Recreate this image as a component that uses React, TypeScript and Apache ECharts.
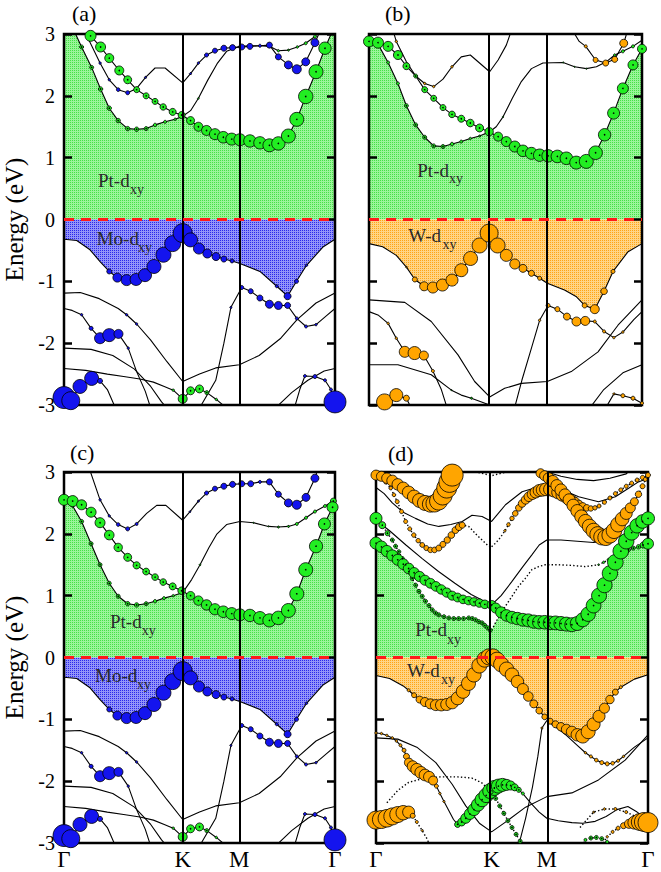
import { useEffect, useRef } from 'react';
import * as echarts from 'echarts';

// ---------- axis data ----------
const Y_MIN = -3;
const Y_MAX = 3;
const Y_STEP = 1;
const KPOS = [0.438, 0.442, 0.438, 0.425];
const MPOS = [0.647, 0.653, 0.647, 0.628];
const PATH_LABELS = ['Γ', 'K', 'M', 'Γ'];
const PANEL_TAGS = ['(a)', '(b)', '(c)', '(d)'];
const Y_NAME = 'Energy (eV)';

// points: [k (fraction of path), E (eV), Pt-dxy weight, metal-dxy weight]
// ---------- panel (a) conduction ----------
const A_P = [
  [0, 3.6], [0.06, 3.2],
  [0.098, 2.97, 0.55], [0.135, 2.79, 0.5], [0.167, 2.61, 0.45], [0.204, 2.41, 0.45], [0.235, 2.26, 0.4],
  [0.268, 2.1, 0.3], [0.303, 2.0, 0.3], [0.336, 1.91, 0.3], [0.366, 1.82, 0.32], [0.401, 1.74, 0.35],
  [0.434, 1.69, 0.35], [0.467, 1.6, 0.4], [0.496, 1.5, 0.45], [0.526, 1.44, 0.5], [0.557, 1.38, 0.55],
  [0.588, 1.33, 0.58], [0.619, 1.3, 0.6], [0.649, 1.29, 0.6], [0.686, 1.27, 0.62], [0.723, 1.24, 0.62],
  [0.758, 1.2, 0.65], [0.791, 1.23, 0.67], [0.828, 1.35, 0.7], [0.859, 1.62, 0.7], [0.892, 1.99, 0.72],
  [0.93, 2.39, 0.7], [0.963, 2.77, 0.62], [1, 3.15],
];
const A_L = [
  [0, 3.4], [0.065, 2.79, 0.2], [0.102, 2.46, 0.2], [0.135, 2.11, 0.22], [0.167, 1.8, 0.22], [0.2, 1.6, 0.22],
  [0.235, 1.47, 0.22], [0.268, 1.46, 0.22], [0.303, 1.47, 0.2], [0.336, 1.53, 0.17], [0.373, 1.58, 0.15],
  [0.41, 1.62, 0.12], [0.438, 1.67], [0.467, 1.76], [0.496, 1.96, 0.08], [0.53, 2.25], [0.565, 2.52],
  [0.6, 2.72], [0.647, 2.8], [0.69, 2.81], [0.723, 2.81], [0.758, 2.8], [0.791, 2.73, 0.12], [0.828, 2.74, 0.1],
  [0.861, 2.79, 0.12], [0.892, 2.85, 0.15], [0.926, 2.96, 0.15], [0.96, 3.12], [1, 3.4],
];
const A_B = [
  [0.07, 3.1], [0.133, 2.53, 0, 0.12], [0.167, 2.26, 0, 0.12], [0.2, 2.1, 0, 0.18], [0.235, 2.05, 0, 0.2],
  [0.268, 2.12, 0, 0.12], [0.301, 2.3, 0, 0.1], [0.336, 2.45], [0.373, 2.45], [0.438, 2.21],
  [0.467, 2.36, 0, 0.1], [0.496, 2.53, 0, 0.12], [0.526, 2.66, 0, 0.2], [0.557, 2.73, 0, 0.25],
  [0.59, 2.77, 0, 0.3], [0.622, 2.78, 0, 0.3], [0.656, 2.79, 0, 0.3], [0.686, 2.8, 0, 0.3],
  [0.723, 2.81, 0, 0.15], [0.758, 2.82, 0, 0.3], [0.791, 2.63, 0, 0.3], [0.828, 2.5, 0, 0.4],
  [0.859, 2.43, 0, 0.45], [0.892, 2.55, 0, 0.4], [0.926, 2.86, 0, 0.4], [0.95, 3.1],
];
// ---------- panels (a),(c) valence (Mo) ----------
const MO_V1 = [
  [0, -0.32], [0.047, -0.34], [0.096, -0.49], [0.133, -0.68], [0.167, -0.84, 0, 0.25], [0.197, -0.94, 0, 0.45],
  [0.231, -0.98, 0, 0.55], [0.266, -0.97, 0, 0.6], [0.299, -0.9, 0, 0.65], [0.332, -0.76, 0, 0.7],
  [0.367, -0.57, 0, 0.75], [0.401, -0.39, 0, 0.8], [0.438, -0.22, 0, 0.95], [0.467, -0.33, 0, 0.7],
  [0.498, -0.47, 0, 0.55], [0.529, -0.55, 0, 0.45], [0.561, -0.6, 0, 0.4], [0.59, -0.64, 0, 0.3],
  [0.62, -0.67, 0, 0.2], [0.649, -0.71], [0.723, -0.84], [0.785, -1.08, 0, 0.15], [0.825, -1.24, 0, 0.35],
  [0.858, -1.0, 0, 0.2], [0.895, -0.74, 0, 0.12], [0.957, -0.44], [1, -0.32],
];
const MO_V2 = [
  [0, -1.19], [0.06, -1.18], [0.13, -1.28], [0.2, -1.44], [0.231, -1.54, 0, 0.12], [0.268, -1.69, 0, 0.12],
  [0.32, -1.95], [0.38, -2.3], [0.438, -2.62], [0.5, -2.5], [0.56, -2.4], [0.647, -2.35], [0.72, -2.2],
  [0.8, -1.92], [0.86, -1.62], [0.93, -1.35], [1, -1.19],
];
const MO_V3 = [
  [0, -1.44], [0.03, -1.47], [0.065, -1.54, 0, 0.12], [0.1, -1.76, 0, 0.2], [0.133, -1.92, 0, 0.55],
  [0.167, -1.87, 0, 0.65], [0.201, -1.85, 0, 0.45], [0.237, -2.08, 0, 0.12], [0.268, -2.46], [0.3, -2.78],
  [0.32, -3.05],
];
const MO_V3B = [
  [0.5, -3.05], [0.56, -2.6], [0.59, -2.0], [0.616, -1.42, 0, 0.1], [0.656, -1.1, 0, 0.2], [0.689, -1.16, 0, 0.25],
  [0.723, -1.27, 0, 0.3], [0.758, -1.37, 0, 0.4], [0.791, -1.39, 0, 0.4], [0.825, -1.39, 0, 0.3],
  [0.859, -1.6, 0, 0.15], [0.893, -1.73, 0, 0.15], [0.93, -1.7, 0, 0.12], [0.97, -1.55], [1, -1.44],
];
const MO_V4 = [
  [0, -2.41], [0.08, -2.44], [0.16, -2.5], [0.22, -2.54], [0.28, -2.58], [0.33, -2.63], [0.37, -2.7],
  [0.403, -2.76, 0.12], [0.438, -2.9, 0.45], [0.467, -2.77, 0.4], [0.5, -2.74, 0.4], [0.527, -2.8, 0.2],
  [0.562, -2.91, 0.12], [0.6, -3.05],
];
const MO_V4B = [[0, -2.08], [0.1, -2.1], [0.18, -2.2], [0.26, -2.42], [0.32, -2.7], [0.36, -2.95], [0.38, -3.05]];
const MO_V5 = [
  [0, -2.88, 0, 1.1], [0.025, -2.93, 0, 0.9], [0.059, -2.7, 0, 0.7], [0.102, -2.57, 0, 0.7],
  [0.133, -2.61, 0, 0.25], [0.16, -2.75], [0.19, -3.05],
];
const MO_V5B = [
  [0.85, -3.05], [0.87, -2.75], [0.889, -2.53, 0, 0.15], [0.926, -2.54, 0, 0.2], [0.963, -2.6, 0, 0.15],
  [0.985, -2.75, 0, 0.15], [1, -2.95, 0, 1.1],
];
const MO_V6 = [[0.78, -3.05], [0.84, -2.8], [0.9, -2.6], [0.96, -2.45], [1, -2.41]];

// ---------- panel (c) conduction ----------
const C_P = [
  [0, 2.55, 0.55], [0.032, 2.53, 0.55], [0.065, 2.47, 0.5], [0.1, 2.35, 0.5], [0.133, 2.18, 0.5],
  [0.167, 1.98, 0.48], [0.2, 1.78, 0.42], [0.235, 1.62, 0.4], [0.268, 1.49, 0.36], [0.303, 1.39, 0.34],
  [0.336, 1.3, 0.33], [0.366, 1.22, 0.33], [0.401, 1.15, 0.35], [0.434, 1.08, 0.38], [0.467, 1.0, 0.42],
  [0.496, 0.92, 0.47], [0.526, 0.85, 0.52], [0.557, 0.78, 0.56], [0.588, 0.74, 0.58], [0.619, 0.71, 0.6],
  [0.649, 0.69, 0.6], [0.686, 0.68, 0.62], [0.723, 0.64, 0.64], [0.758, 0.6, 0.66], [0.791, 0.64, 0.68],
  [0.828, 0.76, 0.7], [0.859, 1.03, 0.7], [0.892, 1.42, 0.7], [0.93, 1.8, 0.66], [0.961, 2.16, 0.6],
  [0.991, 2.43, 0.55], [1, 2.46],
];
const C_L = [
  [0, 2.56], [0.032, 2.45, 0.15], [0.065, 2.2, 0.2], [0.1, 1.84, 0.2], [0.133, 1.5, 0.2], [0.167, 1.2, 0.2],
  [0.2, 0.99, 0.2], [0.235, 0.87, 0.22], [0.268, 0.85, 0.22], [0.303, 0.87, 0.2], [0.336, 0.91, 0.17],
  [0.369, 0.96, 0.15], [0.403, 1.0, 0.12], [0.438, 1.05], [0.471, 1.26], [0.502, 1.5, 0.08], [0.535, 1.78],
  [0.563, 1.99], [0.6, 2.15], [0.649, 2.2], [0.699, 2.18, 0.06], [0.754, 2.12, 0.06], [0.791, 2.11, 0.1],
  [0.828, 2.12, 0.1], [0.859, 2.16, 0.15], [0.893, 2.26, 0.15], [0.926, 2.36, 0.15], [0.963, 2.45, 0.15],
  [0.994, 2.53, 0.3], [1, 2.55],
];
const C_B = [
  [0.09, 3.1], [0.133, 2.55, 0, 0.12], [0.167, 2.29, 0, 0.12], [0.2, 2.15, 0, 0.18], [0.235, 2.08, 0, 0.2],
  [0.268, 2.16, 0, 0.15], [0.305, 2.33], [0.342, 2.46], [0.376, 2.46], [0.438, 2.22], [0.465, 2.36, 0, 0.08],
  [0.496, 2.53, 0, 0.1], [0.526, 2.66, 0, 0.2], [0.557, 2.73, 0, 0.25], [0.59, 2.77, 0, 0.3],
  [0.622, 2.8, 0, 0.3], [0.656, 2.81, 0, 0.3], [0.689, 2.81, 0, 0.3], [0.723, 2.84, 0, 0.15],
  [0.758, 2.84, 0, 0.3], [0.791, 2.64, 0, 0.3], [0.828, 2.5, 0, 0.4], [0.859, 2.47, 0, 0.45],
  [0.893, 2.59, 0, 0.4], [0.926, 2.9, 0, 0.4], [0.94, 3.1],
];

// ---------- panel (b) ----------
const B_P = [
  [0, 2.88, 0.55], [0.033, 2.86, 0.55], [0.07, 2.8, 0.5], [0.106, 2.66, 0.45], [0.137, 2.48, 0.35],
  [0.171, 2.32, 0.2], [0.204, 2.1, 0.3], [0.237, 1.96, 0.3], [0.271, 1.81, 0.3], [0.304, 1.7, 0.33],
  [0.338, 1.63, 0.35], [0.371, 1.56, 0.38], [0.405, 1.48, 0.4], [0.44, 1.42, 0.42], [0.473, 1.34, 0.45],
  [0.503, 1.26, 0.5], [0.534, 1.18, 0.55], [0.564, 1.11, 0.58], [0.595, 1.07, 0.6], [0.625, 1.04, 0.62],
  [0.656, 1.03, 0.62], [0.69, 1.02, 0.63], [0.723, 0.99, 0.63], [0.759, 0.92, 0.65], [0.796, 0.94, 0.7],
  [0.83, 1.08, 0.68], [0.863, 1.37, 0.62], [0.896, 1.72, 0.6], [0.93, 2.12, 0.55], [0.967, 2.5, 0.5],
  [1, 2.76, 0.45],
];
const B_L = [
  [0, 2.9], [0.035, 2.82, 0.1], [0.07, 2.54, 0.15], [0.106, 2.2, 0.15], [0.137, 1.84, 0.2], [0.171, 1.53, 0.2],
  [0.204, 1.33, 0.2], [0.237, 1.19, 0.2], [0.271, 1.18, 0.2], [0.304, 1.22, 0.18], [0.338, 1.26, 0.15],
  [0.371, 1.31, 0.12], [0.405, 1.35, 0.1], [0.442, 1.42], [0.466, 1.5], [0.491, 1.66, 0.06], [0.525, 1.96],
  [0.558, 2.23], [0.595, 2.44], [0.637, 2.53], [0.711, 2.54, 0.06], [0.753, 2.47, 0.06], [0.796, 2.44, 0.06],
  [0.833, 2.47], [0.869, 2.55], [0.9, 2.66, 0.12], [0.93, 2.72, 0.15], [0.967, 2.8, 0.15], [1, 2.9],
];
const B_B = [
  [0.085, 3.1], [0.1, 2.88, 0, 0.12], [0.137, 2.55], [0.171, 2.32], [0.204, 2.2, 0, 0.12], [0.237, 2.15, 0, 0.12],
  [0.271, 2.27], [0.304, 2.47, 0, 0.12], [0.338, 2.63], [0.371, 2.66], [0.442, 2.39], [0.473, 2.58],
  [0.503, 2.82], [0.525, 3.1],
];
const B_B2 = [
  [0.74, 3.1], [0.77, 2.88], [0.794, 2.8, 0, 0.15], [0.83, 2.58, 0, 0.25], [0.867, 2.53, 0, 0.3],
  [0.9, 2.59, 0, 0.3], [0.933, 2.85, 0, 0.4], [0.95, 3.1],
];
const W_V1 = [
  [0, -0.39], [0.05, -0.44], [0.1, -0.58], [0.137, -0.77, 0, 0.08], [0.168, -0.97, 0, 0.25],
  [0.202, -1.08, 0, 0.45], [0.234, -1.1, 0, 0.55], [0.269, -1.06, 0, 0.6], [0.304, -0.98, 0, 0.6],
  [0.338, -0.82, 0, 0.65], [0.372, -0.63, 0, 0.7], [0.405, -0.42, 0, 0.75], [0.44, -0.22, 0, 0.9],
  [0.471, -0.42, 0, 0.75], [0.503, -0.58, 0, 0.6], [0.534, -0.72, 0, 0.5], [0.564, -0.79, 0, 0.4],
  [0.595, -0.87, 0, 0.3], [0.625, -0.95, 0, 0.2], [0.653, -1.03], [0.716, -1.14], [0.76, -1.25],
  [0.79, -1.39, 0, 0.25], [0.827, -1.45, 0, 0.45], [0.861, -1.16, 0, 0.33], [0.894, -0.84, 0, 0.2],
  [0.949, -0.52], [1, -0.39],
];
const W_V2 = [
  [0, -1.3], [0.131, -1.34], [0.228, -1.65], [0.326, -2.19], [0.387, -2.62], [0.442, -2.87], [0.497, -2.73],
  [0.558, -2.65], [0.653, -2.62], [0.741, -2.46], [0.839, -2.14], [0.912, -1.71], [1, -1.3],
];
const W_V3 = [
  [0, -1.49], [0.035, -1.55], [0.07, -1.68, 0, 0.12], [0.1, -1.92, 0, 0.12], [0.131, -2.14, 0, 0.55],
  [0.167, -2.16, 0, 0.65], [0.201, -2.2, 0, 0.45], [0.234, -2.45, 0, 0.15], [0.265, -2.75], [0.29, -3.1],
];
const W_V3B = [
  [0.53, -3.1], [0.56, -2.6], [0.595, -2.08], [0.625, -1.63, 0, 0.12], [0.656, -1.39, 0, 0.2],
  [0.69, -1.45, 0, 0.25], [0.725, -1.57, 0, 0.35], [0.76, -1.65, 0, 0.45], [0.792, -1.64, 0, 0.45],
  [0.827, -1.65, 0, 0.15], [0.861, -1.81, 0, 0.15], [0.897, -1.91, 0, 0.12], [0.93, -1.82, 0, 0.12],
  [0.97, -1.62], [1, -1.49],
];
const W_V4 = [
  [0, -2.35], [0.106, -2.35], [0.228, -2.51], [0.302, -2.76, 0.06], [0.338, -2.84], [0.375, -2.89, 0.1],
  [0.442, -3.0], [0.47, -3.1],
];
const W_V5 = [[0.02, -3.1], [0.057, -2.95, 0, 0.8], [0.1, -2.84, 0, 0.65], [0.137, -2.89, 0, 0.3], [0.16, -3.1]];
const W_V5B = [[0.86, -3.1], [0.897, -2.82, 0, 0.1], [0.93, -2.85, 0, 0.2], [0.967, -2.89, 0, 0.2], [1, -2.97, 0, 0.15]];
const W_V6 = [[0.8, -3.1], [0.86, -2.75], [0.93, -2.48], [1, -2.35]];

// ---------- panel (d) ----------
const D_O1 = [
  [0, 2.95, 0, 0.5], [0.02, 2.93, 0, 0.5], [0.04, 2.9, 0, 0.52], [0.06, 2.86, 0, 0.55], [0.08, 2.8, 0, 0.57],
  [0.1, 2.74, 0, 0.6], [0.12, 2.67, 0, 0.63], [0.14, 2.6, 0, 0.66], [0.16, 2.54, 0, 0.7], [0.18, 2.5, 0, 0.75],
  [0.2, 2.48, 0, 0.8], [0.215, 2.49, 0, 0.85], [0.23, 2.53, 0, 0.9], [0.245, 2.62, 0, 0.95],
  [0.26, 2.74, 0, 1.0], [0.27, 2.84, 0, 1.05], [0.28, 2.95, 0, 1.1], [0.29, 3.1],
];
const D_O2 = [
  [0, 3.05], [0.017, 2.9, 0, 0.15], [0.035, 2.83, 0, 0.15], [0.054, 2.74, 0, 0.18], [0.066, 2.63, 0, 0.18],
  [0.078, 2.52, 0, 0.2], [0.094, 2.36, 0, 0.2], [0.109, 2.2, 0, 0.2], [0.124, 2.08, 0, 0.2],
  [0.139, 1.98, 0, 0.22], [0.155, 1.89, 0, 0.22], [0.17, 1.82, 0, 0.24], [0.185, 1.77, 0, 0.25],
  [0.2, 1.74, 0, 0.27], [0.215, 1.74, 0, 0.28], [0.231, 1.77, 0, 0.3], [0.246, 1.83, 0, 0.3],
  [0.262, 1.9, 0, 0.32], [0.277, 1.98, 0, 0.33], [0.292, 2.06, 0, 0.34], [0.305, 2.11, 0, 0.35],
  [0.317, 2.14, 0, 0.3], [0.33, 2.13], [0.341, 2.12], [0.354, 2.06], [0.366, 2.0], [0.378, 1.95],
  [0.39, 1.9], [0.402, 1.85], [0.414, 1.8], [0.425, 1.79],
];
const D_O3 = [
  [0.425, 1.79], [0.437, 1.84], [0.45, 1.9], [0.462, 1.97], [0.474, 2.05, 0, 0.12], [0.487, 2.15, 0, 0.18],
  [0.5, 2.25, 0, 0.22], [0.512, 2.33, 0, 0.28], [0.525, 2.42, 0, 0.33], [0.537, 2.49, 0, 0.38],
  [0.55, 2.55, 0, 0.43], [0.562, 2.6, 0, 0.48], [0.575, 2.64, 0, 0.52], [0.587, 2.67, 0, 0.56],
  [0.6, 2.7, 0, 0.6], [0.612, 2.71, 0, 0.62], [0.625, 2.72, 0, 0.64], [0.64, 2.72, 0, 0.65],
  [0.655, 2.7, 0, 0.65], [0.67, 2.67, 0, 0.65], [0.685, 2.63, 0, 0.63], [0.7, 2.59, 0, 0.6],
  [0.715, 2.55, 0, 0.57], [0.73, 2.51, 0, 0.52], [0.745, 2.47, 0, 0.46], [0.76, 2.44, 0, 0.4],
  [0.775, 2.42, 0, 0.33], [0.79, 2.41, 0, 0.27], [0.805, 2.42, 0, 0.22], [0.82, 2.45, 0, 0.2],
  [0.84, 2.51, 0, 0.2], [0.86, 2.58, 0, 0.2], [0.88, 2.65, 0, 0.2], [0.9, 2.71, 0, 0.2], [0.92, 2.77, 0, 0.2],
  [0.94, 2.82, 0, 0.2], [0.96, 2.87, 0, 0.2], [0.98, 2.91, 0, 0.22], [1, 2.95, 0, 0.25],
];
const D_O4 = [
  [0.595, 3.1], [0.605, 2.98, 0, 0.45], [0.62, 2.94, 0, 0.5], [0.635, 2.9, 0, 0.55], [0.65, 2.85, 0, 0.58],
  [0.665, 2.78, 0, 0.6], [0.68, 2.71, 0, 0.6], [0.695, 2.63, 0, 0.6], [0.71, 2.55, 0, 0.6],
  [0.725, 2.46, 0, 0.62], [0.74, 2.37, 0, 0.64], [0.755, 2.28, 0, 0.66], [0.77, 2.2, 0, 0.7],
  [0.785, 2.12, 0, 0.72], [0.8, 2.05, 0, 0.75], [0.815, 1.99, 0, 0.78], [0.83, 1.95, 0, 0.8],
  [0.845, 1.94, 0, 0.8], [0.86, 1.98, 0, 0.8], [0.875, 2.05, 0, 0.78], [0.89, 2.15, 0, 0.74],
  [0.905, 2.24, 0, 0.68], [0.92, 2.33, 0, 0.6], [0.935, 2.42, 0, 0.5], [0.95, 2.52, 0, 0.4],
  [0.965, 2.64, 0, 0.32], [0.98, 2.77, 0, 0.25], [0.99, 2.88, 0, 0.2], [1, 2.97],
];
const D_GA1 = [
  [0, 2.25, 0.6], [0.023, 2.14, 0.35], [0.042, 2.01, 0.25], [0.06, 1.9, 0.2], [0.072, 1.8, 0.2],
  [0.084, 1.71, 0.2], [0.097, 1.6, 0.2], [0.109, 1.5, 0.2], [0.121, 1.39, 0.2], [0.133, 1.28, 0.2],
  [0.146, 1.17, 0.2], [0.158, 1.07, 0.2], [0.17, 0.99, 0.2], [0.182, 0.91, 0.2], [0.195, 0.84, 0.2],
  [0.207, 0.77, 0.2], [0.219, 0.72, 0.2], [0.231, 0.69, 0.2], [0.25, 0.66, 0.2], [0.268, 0.64, 0.2],
  [0.286, 0.63, 0.2], [0.304, 0.63, 0.2], [0.322, 0.63, 0.2], [0.341, 0.64, 0.2], [0.354, 0.63, 0.2],
  [0.366, 0.61, 0.2], [0.378, 0.58, 0.2], [0.39, 0.56, 0.2], [0.4, 0.52, 0.2], [0.41, 0.48, 0.2],
  [0.42, 0.44, 0.2],
];
const D_GA2 = [
  [0.425, 0.44], [0.439, 0.56], [0.457, 0.7], [0.476, 0.83], [0.5, 0.99], [0.524, 1.15], [0.549, 1.28],
  [0.573, 1.42], [0.598, 1.47], [0.622, 1.5], [0.67, 1.5], [0.72, 1.49], [0.769, 1.47], [0.818, 1.5, 0.08],
  [0.837, 1.54, 0.12], [0.855, 1.58, 0.15], [0.873, 1.62, 0.15], [0.891, 1.66, 0.18], [0.91, 1.7, 0.18],
  [0.928, 1.74, 0.2], [0.946, 1.77, 0.2], [0.965, 1.79, 0.22], [0.982, 1.82, 0.3], [1, 1.84, 0.55],
];
const D_GB = [
  [0, 1.85, 0.6], [0.02, 1.79, 0.58], [0.04, 1.72, 0.57], [0.06, 1.65, 0.56], [0.08, 1.58, 0.55],
  [0.1, 1.51, 0.54], [0.12, 1.44, 0.53], [0.14, 1.37, 0.52], [0.16, 1.31, 0.51], [0.18, 1.25, 0.5],
  [0.2, 1.2, 0.49], [0.22, 1.15, 0.48], [0.24, 1.1, 0.47], [0.26, 1.05, 0.46], [0.28, 1.0, 0.45],
  [0.3, 0.97, 0.44], [0.32, 0.94, 0.43], [0.34, 0.92, 0.42], [0.36, 0.9, 0.42], [0.38, 0.88, 0.42],
  [0.4, 0.86, 0.43], [0.425, 0.85, 0.45], [0.44, 0.8, 0.5], [0.46, 0.73, 0.55], [0.48, 0.68, 0.58],
  [0.5, 0.65, 0.6], [0.52, 0.63, 0.62], [0.54, 0.61, 0.64], [0.56, 0.6, 0.65], [0.58, 0.58, 0.66],
  [0.6, 0.57, 0.67], [0.62, 0.57, 0.68], [0.64, 0.56, 0.68], [0.66, 0.56, 0.69], [0.68, 0.55, 0.7],
  [0.7, 0.54, 0.7], [0.72, 0.53, 0.7], [0.74, 0.55, 0.7], [0.76, 0.61, 0.7], [0.78, 0.7, 0.72],
  [0.8, 0.84, 0.74], [0.82, 1.0, 0.75], [0.84, 1.17, 0.76], [0.86, 1.36, 0.77], [0.88, 1.54, 0.78],
  [0.9, 1.72, 0.78], [0.92, 1.88, 0.77], [0.94, 2.02, 0.75], [0.96, 2.13, 0.72], [0.98, 2.2, 0.68],
  [1, 2.25, 0.65],
];
const D_D1 = [
  [0, 2.22], [0.05, 2.05], [0.11, 1.82], [0.17, 1.6], [0.23, 1.39], [0.29, 1.2], [0.35, 1.02], [0.425, 0.85],
  [0.46, 1.0], [0.5, 1.23], [0.54, 1.47], [0.573, 1.66], [0.6, 1.82], [0.628, 1.9], [0.68, 1.9], [0.74, 1.88],
  [0.8, 1.86], [0.86, 1.9], [0.92, 2.0], [0.96, 2.1], [1, 2.22],
];
const D_T1 = [
  [0, 2.75], [0.03, 2.65], [0.06, 2.5], [0.1, 2.35], [0.145, 2.25], [0.19, 2.16], [0.231, 2.12], [0.275, 2.15],
  [0.317, 2.2], [0.353, 2.3], [0.39, 2.28], [0.425, 2.2], [0.476, 2.47], [0.537, 2.68], [0.598, 2.76],
  [0.628, 2.78], [0.68, 2.72], [0.745, 2.6], [0.818, 2.52], [0.88, 2.6], [0.93, 2.74], [0.965, 2.84], [1, 2.9],
];
const D_T2 = [[0.33, 3.1], [0.37, 3.0], [0.425, 2.94], [0.48, 3.0], [0.52, 3.1]];
const D_T3 = [[0.6, 3.1], [0.628, 3.0], [0.68, 2.93], [0.74, 2.88], [0.8, 2.86], [0.86, 2.9], [0.92, 2.97], [0.95, 3.1]];
const D_V1 = [
  [0, -0.29], [0.05, -0.34], [0.1, -0.46], [0.12, -0.53, 0, 0.15], [0.14, -0.61, 0, 0.25], [0.16, -0.68, 0, 0.35],
  [0.18, -0.72, 0, 0.45], [0.2, -0.75, 0, 0.5], [0.22, -0.77, 0, 0.55], [0.24, -0.77, 0, 0.58],
  [0.26, -0.76, 0, 0.6], [0.28, -0.73, 0, 0.62], [0.3, -0.66, 0, 0.65], [0.32, -0.55, 0, 0.68],
  [0.34, -0.42, 0, 0.7], [0.36, -0.28, 0, 0.72], [0.38, -0.13, 0, 0.75], [0.4, -0.03, 0, 0.78],
  [0.415, 0.01, 0, 0.8], [0.43, 0.01, 0, 0.8], [0.445, -0.04, 0, 0.78], [0.46, -0.11, 0, 0.75],
  [0.48, -0.19, 0, 0.72], [0.5, -0.28, 0, 0.68], [0.52, -0.39, 0, 0.62], [0.54, -0.51, 0, 0.55],
  [0.56, -0.63, 0, 0.48], [0.58, -0.75, 0, 0.4], [0.6, -0.86, 0, 0.33], [0.62, -0.96, 0, 0.28],
  [0.64, -1.03, 0, 0.3], [0.66, -1.08, 0, 0.35], [0.68, -1.12, 0, 0.42], [0.7, -1.16, 0, 0.5],
  [0.72, -1.2, 0, 0.55], [0.74, -1.25, 0, 0.62], [0.76, -1.27, 0, 0.7], [0.78, -1.2, 0, 0.7],
  [0.8, -1.08, 0, 0.65], [0.82, -0.95, 0, 0.6], [0.84, -0.82, 0, 0.5], [0.86, -0.68, 0, 0.42],
  [0.88, -0.56, 0, 0.3], [0.9, -0.48, 0, 0.15], [0.95, -0.35], [1, -0.28],
];
const D_V2 = [
  [0, -1.22, 0, 0.12], [0.02, -1.23, 0, 0.12], [0.04, -1.26, 0, 0.12], [0.06, -1.3, 0, 0.12],
  [0.075, -1.35, 0, 0.12], [0.09, -1.42, 0, 0.15], [0.103, -1.5, 0, 0.2], [0.112, -1.6, 0, 0.3],
  [0.121, -1.7, 0, 0.45], [0.135, -1.76, 0, 0.55], [0.15, -1.81, 0, 0.6], [0.165, -1.86, 0, 0.6],
  [0.18, -1.9, 0, 0.58], [0.195, -1.93, 0, 0.55], [0.21, -1.99, 0, 0.45], [0.222, -2.08, 0, 0.2],
  [0.235, -2.2, 0, 0.12], [0.25, -2.33, 0, 0.1], [0.268, -2.48], [0.285, -2.62], [0.3, -2.7, 0.3],
  [0.315, -2.66, 0.4], [0.33, -2.6, 0.5], [0.345, -2.53, 0.55], [0.36, -2.46, 0.6], [0.375, -2.38, 0.65],
  [0.39, -2.3, 0.7], [0.405, -2.23, 0.72], [0.42, -2.16, 0.75], [0.435, -2.11, 0.75], [0.45, -2.08, 0.7],
  [0.465, -2.06, 0.65], [0.48, -2.06, 0.55], [0.495, -2.07, 0.45], [0.51, -2.1, 0.35], [0.525, -2.14, 0.25],
  [0.54, -2.2, 0.15], [0.549, -2.25], [0.57, -2.36], [0.6, -2.5], [0.628, -2.6], [0.67, -2.64],
  [0.72, -2.67], [0.76, -2.68], [0.806, -2.65], [0.846, -2.57], [0.886, -2.46], [0.926, -2.41],
  [0.96, -2.5], [1, -2.62],
];
const D_GSM = [
  [0.04, -2.35], [0.08, -2.15], [0.12, -2.02], [0.17, -1.96], [0.236, -1.93], [0.3, -1.93], [0.353, -1.95],
  [0.39, -2.03], [0.425, -2.18, 0.15], [0.44, -2.28, 0.2], [0.455, -2.4, 0.2], [0.47, -2.52, 0.2],
  [0.485, -2.64, 0.2], [0.5, -2.75, 0.2], [0.515, -2.86, 0.2], [0.53, -2.97, 0.2], [0.54, -3.1],
];
const D_V4 = [
  [0, -1.3], [0.08, -1.32], [0.15, -1.45], [0.22, -1.7], [0.28, -2.05], [0.33, -2.4], [0.38, -2.68],
  [0.425, -2.82], [0.48, -2.65], [0.55, -2.42], [0.628, -2.25], [0.72, -2.19], [0.818, -1.98],
  [0.916, -1.66], [1, -1.25],
];
const D_V3B = [
  [0.628, -1.02], [0.66, -1.12], [0.7, -1.26], [0.74, -1.42], [0.77, -1.54, 0, 0.12], [0.79, -1.6, 0, 0.15],
  [0.81, -1.66, 0, 0.18], [0.83, -1.7, 0, 0.2], [0.85, -1.72, 0, 0.2], [0.87, -1.71, 0, 0.18],
  [0.89, -1.67, 0, 0.15], [0.91, -1.6, 0, 0.12], [0.95, -1.45], [1, -1.3],
];
const D_V5 = [[0.524, -3.05], [0.55, -2.6], [0.575, -2.1], [0.595, -1.6], [0.61, -1.14, 0, 0.1], [0.628, -1.02]];
const D_V6 = [
  [0, -2.63, 0, 0.9], [0.02, -2.62, 0, 0.9], [0.04, -2.6, 0, 0.88], [0.06, -2.57, 0, 0.85], [0.08, -2.54, 0, 0.8],
  [0.1, -2.51, 0, 0.72], [0.12, -2.5, 0, 0.6], [0.135, -2.56, 0, 0.25], [0.15, -2.66, 0, 0.15],
  [0.17, -2.8, 0, 0.1], [0.19, -2.95], [0.2, -3.1],
];
const D_V6B = [
  [0.82, -3.1], [0.85, -2.9, 0, 0.12], [0.87, -2.82, 0, 0.15], [0.89, -2.76, 0, 0.2], [0.91, -2.72, 0, 0.3],
  [0.93, -2.69, 0, 0.45], [0.95, -2.67, 0, 0.65], [0.97, -2.66, 0, 0.85], [0.985, -2.66, 0, 0.95],
  [1, -2.67, 0, 1.0],
];
const D_V7 = [[0.75, -2.75], [0.8, -2.5, 0, 0.1], [0.84, -2.45, 0, 0.12], [0.88, -2.45, 0, 0.15], [0.92, -2.5, 0, 0.15], [0.96, -2.58, 0, 0.2], [1, -2.62]];
const D_G3 = [[0.75, -3.1], [0.77, -2.95, 0.15], [0.79, -2.92, 0.2], [0.81, -2.91, 0.2], [0.83, -2.93, 0.2], [0.85, -2.98, 0.15], [0.86, -3.1]];

// ---------- layout / style (not data) ----------
const FONT = '"Liberation Serif", "Times New Roman", serif';
const GREEN = '#22ee22';
const BLUE = '#1414ee';
const ORANGE = '#ffa500';
const SZ = 20;
const GRIDS = [
  { left: 64, top: 34, width: 271, height: 371 },
  { left: 369, top: 34, width: 273, height: 371 },
  { left: 64, top: 472, width: 271, height: 371 },
  { left: 376, top: 472, width: 272, height: 371 },
];

type Pt = number[];
type Band = { d: Pt[]; s: 'solid' | 'dotted' };

function interp(b: Pt[], x: number): number {
  if (x <= b[0][0]) return b[0][1];
  for (let i = 0; i < b.length - 1; i++) {
    const a = b[i], c = b[i + 1];
    if (x >= a[0] && x <= c[0]) {
      const t = c[0] === a[0] ? 0 : (x - a[0]) / (c[0] - a[0]);
      return a[1] + t * (c[1] - a[1]);
    }
  }
  return b[b.length - 1][1];
}
function envelope(bands: Pt[][]): number[][] {
  const xs = Array.from(new Set(bands.flatMap((b) => b.map((p) => p[0])))).sort((p, q) => p - q);
  return xs.map((x) => [x, Math.min(...bands.map((b) => interp(b, x)))]);
}
// dotted fill: one darker dot per 2x2 tile, three lighter pixels
function pattern(dot: string, rest: string) {
  const c = document.createElement('canvas');
  c.width = 2;
  c.height = 2;
  const g = c.getContext('2d')!;
  g.fillStyle = rest;
  g.fillRect(0, 0, 2, 2);
  g.fillStyle = dot;
  g.fillRect(0, 0, 1, 1);
  return { image: c.toDataURL(), repeat: 'repeat', imageWidth: 2, imageHeight: 2 };
}

const S = (d: Pt[]): Band => ({ d, s: 'solid' });
const Dt = (d: Pt[]): Band => ({ d, s: 'dotted' });

const MO_VB = [MO_V1, MO_V2, MO_V3, MO_V3B, MO_V4, MO_V4B, MO_V5, MO_V5B, MO_V6].map(S);

const PANELS = [
  { cb: [A_L, A_P], vb: MO_V1, metal: BLUE, bands: [S(A_B), S(A_L), S(A_P), ...MO_VB] },
  {
    cb: [B_L, B_P], vb: W_V1, metal: ORANGE,
    bands: [S(B_B), S(B_B2), S(B_L), S(B_P), ...[W_V1, W_V2, W_V3, W_V3B, W_V4, W_V5, W_V5B, W_V6].map(S)],
  },
  { cb: [C_L, C_P], vb: MO_V1, metal: BLUE, bands: [S(C_B), S(C_L), S(C_P), ...MO_VB] },
  {
    cb: [[...D_GA1, ...D_GA2], D_GB], vb: D_V1, metal: ORANGE,
    bands: [
      S(D_T1), Dt(D_T2), S(D_T3), S(D_D1), Dt(D_O2), Dt(D_O3), Dt(D_O4), Dt(D_O1), Dt(D_GA1), Dt(D_GA2), Dt(D_GB),
      S(D_V4), S(D_V3B), S(D_V5), Dt(D_V7), S(D_V2), Dt(D_GSM), Dt(D_G3), Dt(D_V6), Dt(D_V6B), S(D_V1),
    ],
  },
];

const TEXTS: { t: string; x: number; y: number; fs: number }[] = [
  { t: PANEL_TAGS[0], x: 72, y: 13, fs: 22 },
  { t: PANEL_TAGS[1], x: 385, y: 13, fs: 22 },
  { t: PANEL_TAGS[2], x: 70, y: 452, fs: 22 },
  { t: PANEL_TAGS[3], x: 388, y: 453, fs: 22 },
  { t: 'Pt-d', x: 98, y: 180.3, fs: 19 }, { t: 'xy', x: 130, y: 189.3, fs: 14 },
  { t: 'Mo-d', x: 96.7, y: 238.6, fs: 19 }, { t: 'xy', x: 138, y: 247.3, fs: 14 },
  { t: 'Pt-d', x: 417.3, y: 170.3, fs: 19 }, { t: 'xy', x: 449, y: 178.8, fs: 14 },
  { t: 'W-d', x: 408.3, y: 235.3, fs: 19 }, { t: 'xy', x: 442.5, y: 244.3, fs: 14 },
  { t: 'Pt-d', x: 110, y: 621.6, fs: 19 }, { t: 'xy', x: 141.7, y: 630.3, fs: 14 },
  { t: 'Mo-d', x: 95, y: 675.3, fs: 19 }, { t: 'xy', x: 137, y: 684.3, fs: 14 },
  { t: 'Pt-d', x: 415.3, y: 629.9, fs: 19 }, { t: 'xy', x: 447, y: 639.3, fs: 14 },
  { t: 'W-d', x: 407, y: 670.3, fs: 19 }, { t: 'xy', x: 441, y: 679.3, fs: 14 },
];

function buildOption() {
  const patG = pattern('#46e146', '#9af59a');
  const patB = pattern('#2828eb', '#9393f8');
  const patO = pattern('#ffa514', '#ffd485');
  const grid: any[] = [];
  const xAxis: any[] = [];
  const yAxis: any[] = [];
  const series: any[] = [];

  PANELS.forEach((p, i) => {
    const K = KPOS[i];
    const M = MPOS[i];
    const bottom = i >= 2;
    const leftCol = i % 2 === 0;
    grid.push({ ...GRIDS[i], show: true, borderColor: '#000', borderWidth: 2.5, backgroundColor: 'transparent' });
    xAxis.push({
      gridIndex: i, type: 'value', min: 0, max: 1,
      axisLine: { show: false }, axisTick: { show: false }, splitLine: { show: false },
      axisLabel: bottom
        ? {
            show: true, customValues: [0, K, M, 1], margin: 5, color: '#000', fontFamily: FONT, fontSize: 23,
            formatter: (v: number) => (Math.abs(v - K) < 1e-6 ? PATH_LABELS[1] : Math.abs(v - M) < 1e-6 ? PATH_LABELS[2] : PATH_LABELS[0]),
          }
        : { show: false },
    });
    const tick = { show: true, inside: true, length: 8, lineStyle: { color: '#000', width: 2.5 } };
    yAxis.push({
      gridIndex: i, type: 'value', min: Y_MIN, max: Y_MAX, interval: Y_STEP, position: 'left',
      axisLine: { show: false }, axisTick: tick, splitLine: { show: false },
      axisLabel: { show: leftCol, color: '#000', fontFamily: FONT, fontSize: 20, margin: 9 },
    });
    yAxis.push({
      gridIndex: i, type: 'value', min: Y_MIN, max: Y_MAX, interval: Y_STEP, position: 'right',
      axisLine: { show: false }, axisTick: tick, splitLine: { show: false }, axisLabel: { show: false },
    });
    const yi = i * 2;
    const base = { xAxisIndex: i, yAxisIndex: yi, silent: true, animation: false };
    series.push({
      ...base, type: 'line', data: envelope(p.cb), symbol: 'none', lineStyle: { width: 0, opacity: 0 },
      areaStyle: { color: patG, opacity: 1, origin: 0 }, z: -1,
    });
    series.push({
      ...base, type: 'line', data: p.vb.map((q) => [q[0], q[1]]), symbol: 'none', lineStyle: { width: 0, opacity: 0 },
      areaStyle: { color: p.metal === BLUE ? patB : patO, opacity: 1, origin: 0 }, z: -1,
    });
    series.push({
      ...base, type: 'line', data: [[0, 0]], symbol: 'none', lineStyle: { width: 0, opacity: 0 }, z: 1,
      markLine: {
        silent: true, symbol: ['none', 'none'], label: { show: false }, animation: false,
        lineStyle: { color: '#000', width: 2, type: 'solid' },
        data: [{ xAxis: K }, { xAxis: M }],
      },
    });
    const gCirc: number[][] = [];
    const mCirc: number[][] = [];
    p.bands.forEach((b) => {
      series.push({
        ...base, type: 'line', data: b.d.map((q) => [q[0], q[1]]), symbol: 'none', z: 2,
        lineStyle: b.s === 'solid' ? { color: '#000', width: 1.1 } : { color: '#000', width: 1.4, type: [1.4, 2.2] },
      });
      b.d.forEach((q) => {
        if (q[2] && q[2] > 0) gCirc.push([q[0], q[1], q[2]]);
        if (q[3] && q[3] > 0) mCirc.push([q[0], q[1], q[3]]);
      });
    });
    series.push({
      ...base, type: 'scatter', data: mCirc, symbol: 'circle', symbolSize: (v: number[]) => v[2] * SZ, z: 3,
      itemStyle: { color: p.metal, borderColor: '#000', borderWidth: 0.8, opacity: 1 },
    });
    series.push({
      ...base, type: 'scatter', data: gCirc, symbol: 'circle', symbolSize: (v: number[]) => v[2] * SZ, z: 3,
      itemStyle: { color: GREEN, borderColor: '#000', borderWidth: 0.8, opacity: 1 },
    });
    series.push({
      ...base, type: 'scatter', data: gCirc.filter((q) => q[2] >= 0.2).map((q) => [q[0], q[1]]),
      symbol: 'circle', symbolSize: 1.6, z: 3, itemStyle: { color: '#000', opacity: 1 },
    });
    series.push({
      ...base, type: 'line', data: [[0, 0]], symbol: 'none', lineStyle: { width: 0, opacity: 0 }, z: 5,
      markLine: {
        silent: true, symbol: ['none', 'none'], label: { show: false }, animation: false,
        lineStyle: { color: '#ff1a1a', width: 3, type: [10, 7] },
        data: [{ yAxis: 0 }],
      },
    });
  });

  const graphic: any[] = TEXTS.map((t) => ({
    type: 'text', x: t.x, y: t.y, z: 10, silent: true,
    style: {
      text: t.t, x: 0, y: 0, fill: t.t.startsWith('(') ? '#000' : '#2a2a2a', font: `${t.fs}px ${FONT}`,
      align: 'left', verticalAlign: 'middle', textAlign: 'left', textVerticalAlign: 'middle',
    },
  }));
  [219.5, 657.5].forEach((y) => {
    graphic.push({
      type: 'text', x: 14.5, y, rotation: Math.PI / 2, z: 10, silent: true,
      style: {
        text: Y_NAME, x: 0, y: 0, fill: '#000', font: `25px ${FONT}`,
        align: 'center', verticalAlign: 'middle', textAlign: 'center', textVerticalAlign: 'middle',
      },
    });
  });

  return { animation: false, backgroundColor: '#fff', grid, xAxis, yAxis, series, graphic };
}

export default function App() {
  const ref = useRef<HTMLDivElement>(null);
  useEffect(() => {
    if (!ref.current) return;
    const chart = echarts.init(ref.current, undefined, { renderer: 'svg' });
    chart.setOption(buildOption() as any);
    return () => chart.dispose();
  }, []);
  return <div ref={ref} style={{ position: 'fixed', left: 0, top: 0, width: 661, height: 872, background: '#fff' }} />;
}
